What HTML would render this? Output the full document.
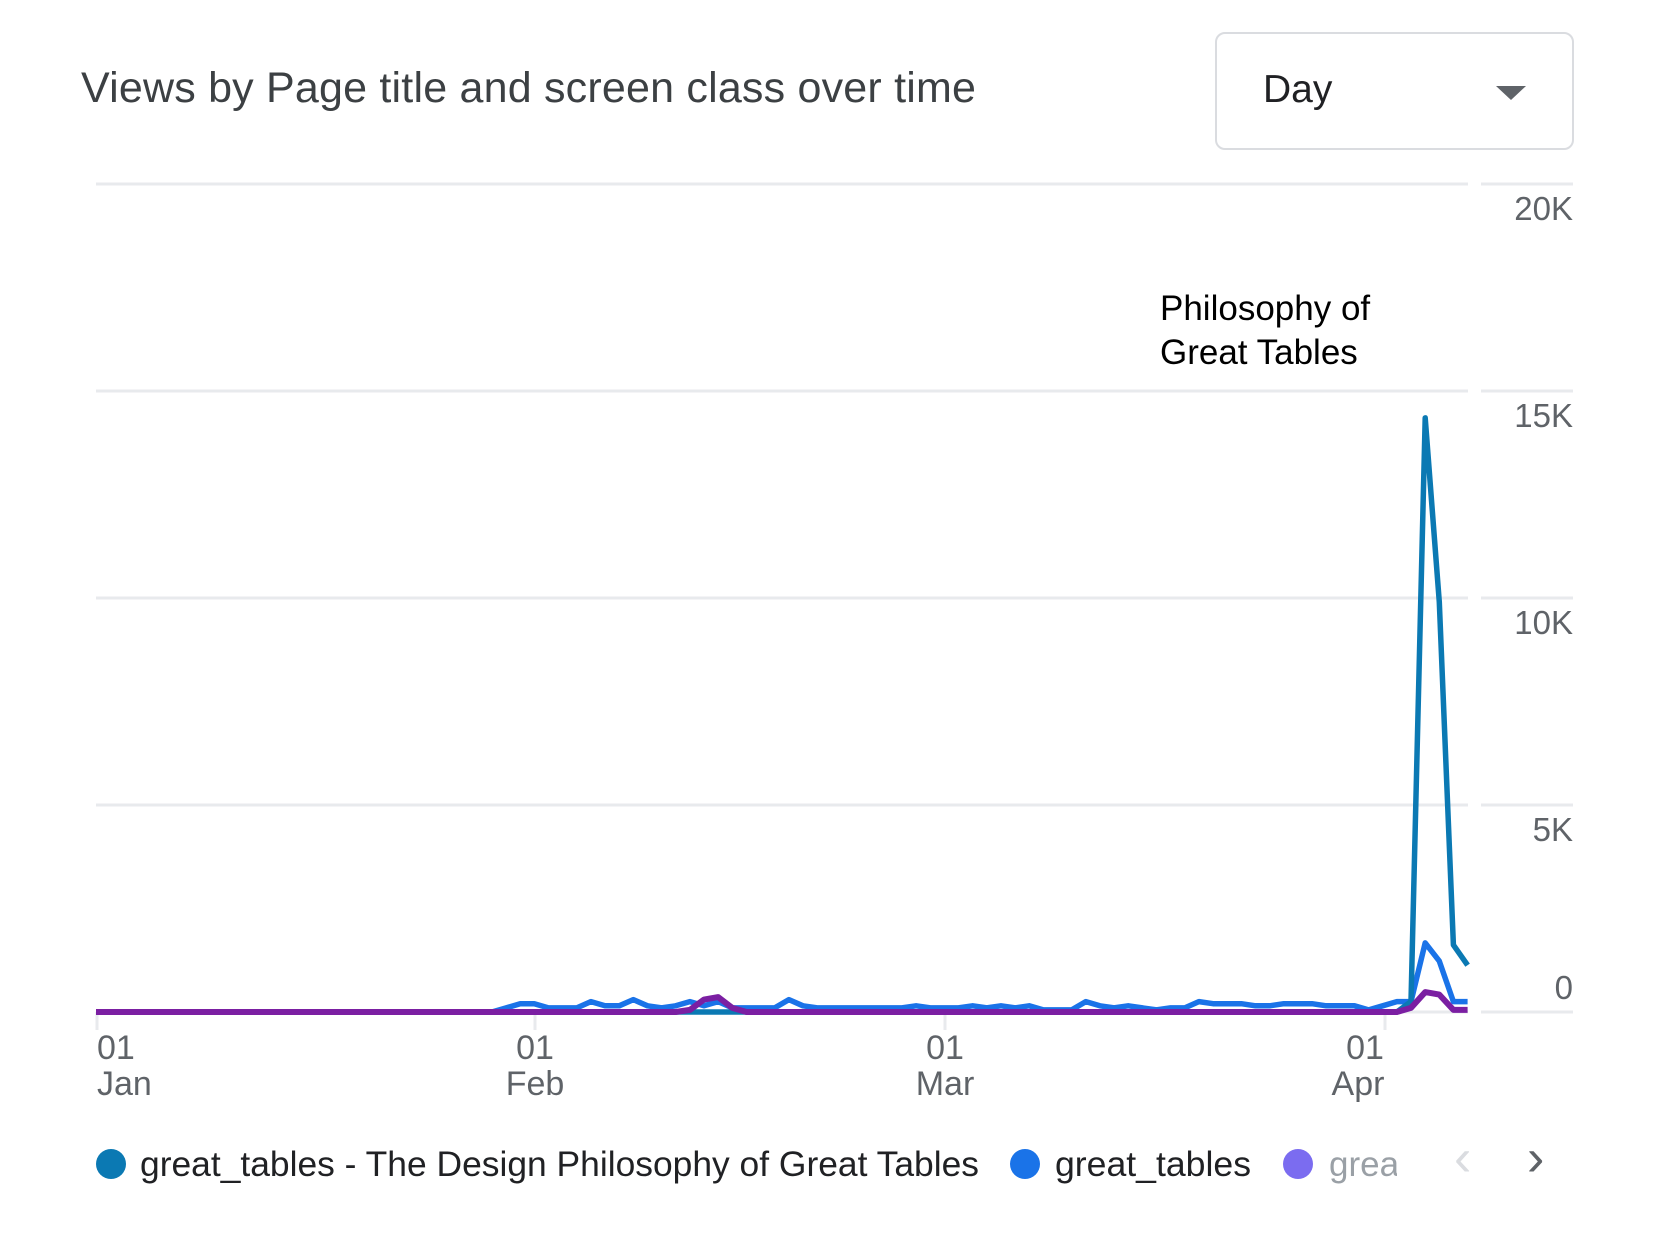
<!DOCTYPE html>
<html><head><meta charset="utf-8"><style>
body{margin:0;background:#fff;width:1668px;height:1236px;overflow:hidden;font-family:"Liberation Sans",sans-serif;position:relative}
.t{position:absolute;white-space:nowrap}
</style></head><body>
<div class="t" style="left:81px;top:64px;font-size:43px;color:#3c4043;letter-spacing:0.2px">Views by Page title and screen class over time</div>
<div style="position:absolute;left:1215px;top:32px;width:355px;height:114px;border:2px solid #dadce0;border-radius:10px"></div>
<div class="t" style="left:1263px;top:68px;font-size:39px;color:#202124">Day</div>
<div style="position:absolute;left:1496px;top:86px;width:0;height:0;border-left:15px solid transparent;border-right:15px solid transparent;border-top:14px solid #5f6368"></div>
<svg width="1668" height="1236" style="position:absolute;left:0;top:0" id="s">
<g stroke="#e8eaed" stroke-width="3">
<line x1="96" x2="1468" y1="184" y2="184"/><line x1="1481" x2="1573" y1="184" y2="184"/>
<line x1="96" x2="1468" y1="391" y2="391"/><line x1="1481" x2="1573" y1="391" y2="391"/>
<line x1="96" x2="1468" y1="598" y2="598"/><line x1="1481" x2="1573" y1="598" y2="598"/>
<line x1="96" x2="1468" y1="805" y2="805"/><line x1="1481" x2="1573" y1="805" y2="805"/>
<line x1="96" x2="1468" y1="1012" y2="1012"/><line x1="1481" x2="1573" y1="1012" y2="1012"/>
<line x1="97" x2="97" y1="1012" y2="1030"/><line x1="535" x2="535" y1="1012" y2="1030"/><line x1="945" x2="945" y1="1012" y2="1030"/><line x1="1385" x2="1385" y1="1012" y2="1030"/>
</g>
<g font-size="33" fill="#5f6368" text-anchor="end" font-family="Liberation Sans, sans-serif">
<text x="1573" y="220">20K</text><text x="1573" y="427">15K</text><text x="1573" y="634">10K</text><text x="1573" y="841">5K</text><text x="1573" y="999">0</text>
</g>
<g font-size="34" fill="#5f6368" font-family="Liberation Sans, sans-serif">
<text x="97" y="1059">01</text><text x="97" y="1095">Jan</text>
<text x="535" y="1059" text-anchor="middle">01</text><text x="535" y="1095" text-anchor="middle">Feb</text>
<text x="945" y="1059" text-anchor="middle">01</text><text x="945" y="1095" text-anchor="middle">Mar</text>
<text x="1365" y="1059" text-anchor="middle">01</text><text x="1358" y="1095" text-anchor="middle">Apr</text>
</g>
<g font-size="35" fill="#000" font-family="Liberation Sans, sans-serif">
<text x="1160" y="320">Philosophy of</text><text x="1160" y="364">Great Tables</text>
</g>
<polyline id="p1" fill="none" stroke="#1a73e8" stroke-width="5.5" stroke-linejoin="round"/>
<polyline id="p0" fill="none" stroke="#0b79b3" stroke-width="5.5" stroke-linejoin="round"/>
<polyline id="p2" fill="none" stroke="#7b1fa2" stroke-width="6" stroke-linejoin="round"/>
<circle cx="111" cy="1164" r="15" fill="#0b79b3"/>
<circle cx="1025" cy="1164" r="15" fill="#1a73e8"/>
<circle cx="1298" cy="1164" r="15" fill="#7b6cf0"/>
<g font-size="35" font-family="Liberation Sans, sans-serif">
<text x="140" y="1176" fill="#202124" textLength="839" lengthAdjust="spacingAndGlyphs">great_tables - The Design Philosophy of Great Tables</text>
<text x="1055" y="1176" fill="#202124" textLength="196" lengthAdjust="spacingAndGlyphs">great_tables</text>
<text x="1329" y="1176" fill="#9aa0a6">grea</text>
</g>
<rect x="1397" y="1130" width="60" height="60" fill="#fff"/>
<text x="1454" y="1175" font-size="52" fill="#dadce0" font-family="Liberation Sans, sans-serif">‹</text>
<text x="1527" y="1175" font-size="52" fill="#5f6368" font-family="Liberation Sans, sans-serif">›</text>
</svg>
<script>
var bv={29:100,30:200,31:200,32:100,33:100,34:100,35:250,36:150,37:150,38:300,39:150,40:100,41:150,42:250,43:150,44:250,45:100,46:100,47:100,48:100,49:300,50:150,51:100,52:100,53:100,54:100,55:100,56:100,57:100,58:150,59:100,60:100,61:100,62:150,63:100,64:150,65:100,66:150,67:50,68:50,69:50,70:250,71:150,72:100,73:150,74:100,75:50,76:100,77:100,78:250,79:200,80:200,81:200,82:150,83:150,84:200,85:200,86:200,87:150,88:150,89:150,90:50,91:150,92:250,93:250,94:1670,95:1230,96:250,97:250};
var tv={93:250,94:14350,95:9900,96:1620,97:1130};
var pv={42:50,43:300,44:360,45:100,93:100,94:480,95:420,96:50,97:50};
function pts(m){var s=[];for(var d=0;d<98;d++){var v=m[d]||0;s.push((96+14.14*d).toFixed(1)+','+(1012-0.0414*v).toFixed(1));}return s.join(' ');}
document.getElementById('p0').setAttribute('points',pts(tv));
document.getElementById('p1').setAttribute('points',pts(bv));
document.getElementById('p2').setAttribute('points',pts(pv));
</script>
</body></html>
